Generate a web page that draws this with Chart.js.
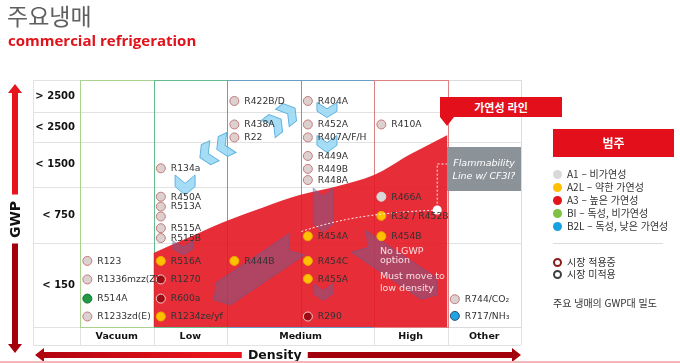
<!DOCTYPE html>
<html lang="ko">
<head>
<meta charset="utf-8">
<title>주요냉매 - commercial refrigeration</title>
<script src="https://cdn.jsdelivr.net/npm/chart.js@4.4.1/dist/chart.umd.min.js"></script>
<style>
  html, body { margin: 0; padding: 0; background: #fff; }
  #wrap { position: relative; width: 680px; height: 363px; overflow: hidden; font-family: 'Noto Sans CJK KR', sans-serif; }
  #chart { position: absolute; left: 0; top: 0; }
  .abs { position: absolute; }
  .title { left: 7px; top: 1px; font-size: 23px; line-height: 28px; color: #5f5f5f; }
  .subtitle { left: 8px; top: 31px; font: bold 15px 'Open Sans', sans-serif; color: #e0121b; line-height: 18px; }
  .flag { left: 440px; top: 97px; width: 122px; height: 20px; background: #e3101b; color: #fff;
          font: bold 11px 'Noto Sans CJK KR', sans-serif; line-height: 20px; text-align: center; }
  .flag-tip { left: 440px; top: 117px; width: 0; height: 0; border-left: 7px solid transparent;
              border-right: 7px solid transparent; border-top: 9px solid #e3101b; }
  .cf3i { left: 447px; top: 147px; width: 74px; height: 44px; background: #8c9398; color: #fff;
          font: italic 9.5px 'DejaVu Sans', sans-serif; line-height: 13px; text-align: center;
          padding-top: 9px; box-sizing: border-box; }
  .legend-head { left: 553px; top: 129px; width: 121px; height: 28px; background: #e3101b; color: #fff;
                 font: bold 12px 'Noto Sans CJK KR', sans-serif; line-height: 28px; text-align: center; }
  .leg-row { left: 553px; height: 13px; font-size: 10px; line-height: 13px; color: #333; white-space: nowrap; }
  .leg-dot { display: inline-block; width: 9px; height: 9px; border-radius: 50%; vertical-align: -1px; margin-right: 5px; box-sizing: border-box; }
  .leg-sep { left: 553px; top: 243px; width: 110px; height: 1px; background: #dcdcdc; }
</style>
</head>
<body>
<div id="wrap">
  <canvas id="chart" width="680" height="363"></canvas>
  <div class="abs title">주요냉매</div>
  <div class="abs subtitle">commercial refrigeration</div>
  <div class="abs flag">가연성 라인</div>
  <div class="abs flag-tip"></div>
  <div class="abs cf3i">Flammability<br>Line w/ CF3I?</div>
  <div class="abs legend-head">범주</div>
  <div id="legend"></div>
</div>
<script>
// columns (density) and rows (GWP band) of the table
const densityLabels = ['Vacuum', 'Low', 'Medium', 'High', 'Other'];
const densityEdges = [0, 1, 2, 4, 5, 6];
const gwpLabels = ['< 150', '< 750', '< 1500', '< 2500', '> 2500'];
const gwpEdges = [0, 6.8, 11.35, 15, 17.4, 20];

// refrigerants: column slot (Medium has two slots: 2 and 3) and height inside the GWP rows
const refNames = [
    'R123', 'R1336mzz(Z)', 'R514A', 'R1233zd(E)',
    'R134a', 'R450A', 'R513A', '', 'R515A', 'R515B', 'R516A', 'R1270', 'R600a', 'R1234ze/yf',
    'R422B/D', 'R438A', 'R22', 'R444B',
    'R404A', 'R452A', 'R407A/F/H', 'R449A', 'R449B', 'R448A', 'R454A', 'R454C', 'R455A', 'R290',
    'R410A', 'R466A', 'R32 / R452B', 'R454B',
    'R744/CO₂', 'R717/NH₃'
];
const refColumn = [
    0, 0, 0, 0,
    1, 1, 1, 1, 1, 1, 1, 1, 1, 1,
    2, 2, 2, 2,
    3, 3, 3, 3, 3, 3, 3, 3, 3, 3,
    4, 4, 4, 4,
    5, 5
];
const refGwp = [
    5.35, 3.85, 2.3, 0.85,
    12.85, 10.55, 9.75, 8.95, 8.0, 7.2, 5.35, 3.85, 2.3, 0.85,
    18.3, 16.4, 15.35, 5.35,
    18.3, 16.4, 15.35, 13.85, 12.8, 11.9, 7.35, 5.35, 3.9, 0.85,
    16.4, 10.55, 9.0, 7.35,
    2.25, 0.9
];
const refClass = [
    'A1', 'A1', 'B1', 'A1',
    'A1', 'A1', 'A1', 'A1', 'A1', 'A1', 'A2L', 'A3', 'A3', 'A2L',
    'A1', 'A1', 'A1', 'A2L',
    'A1', 'A1', 'A1', 'A1', 'A1', 'A1', 'A2L', 'A2L', 'A2L', 'A3',
    'A1', 'A1', 'A2L', 'A2L',
    'A1', 'B2L'
];
const notInMarket = ['R466A'];

// flammability line (top of the red area)
const flammabilityX = [1, 1.5, 2, 2.5, 3, 3.5, 4, 4.5, 5];
const flammabilityY = [6.0, 7.3, 8.6, 9.7, 10.7, 11.4, 12.3, 14.0, 15.55];

// legend
const classKeys = ['A1', 'A2L', 'A3', 'B1', 'B2L'];
const classTitles = ['A1 – 비가연성', 'A2L – 약한 가연성', 'A3 – 높은 가연성', 'BI – 독성, 비가연성', 'B2L – 독성, 낮은 가연성'];
const marketTitles = ['시장 적용중', '시장 미적용'];
const legendNote = '주요 냉매의 GWP대 밀도';
const highNote = ['No LGWP', 'option', 'Must move to', 'low density'];
const highNoteY = [6.15, 5.35, 4.05, 3.15];

const pointStyle = {
    A1:  { fill: '#ddd0d0', ring: '#c47a7a' },
    A2L: { fill: '#ffc000', ring: '#eaa900' },
    A3:  { fill: '#9e0b12', ring: '#f2d0d0' },
    B1:  { fill: '#1f9a45', ring: '#166f33' },
    B2L: { fill: '#1fa3e3', ring: '#25506e' }
};
const legendColors = { A1: '#d9d9d9', A2L: '#ffc000', A3: '#e3141c', B1: '#7dc242', B2L: '#18a1e0' };
const columnColors = ['#a9d38f', '#63bc8e', '#6a9ec8', '#dc8181', '#dcdcdc'];

// decorations: [x, y, length, width, angle]
const blueChevrons = [
    [1.43, 11.5, 20, 20, 90],
    [3.36, 17.57, 15, 20, 90],
    [3.36, 14.82, 17, 20, 90],
    [1.73, 14.0, 16, 22, 155],
    [1.96, 14.66, 16, 22, 155],
    [2.65, 16.44, 16, 22, -38],
    [2.84, 17.33, 16, 22, -38]
];
const slateArrows = [
    [3.31, 9.47, 44, 20, 90],
    [1.40, 6.4, 14, 20, 90],
    [2.39, 4.45, 100, 26, 146],
    [3.31, 2.83, 17, 20, 90],
    [4.33, 4.78, 95, 26, 34]
];
const cf3iPath = [[5, 13.2], [4.86, 13.2], [4.86, 9.47]];
const cf3iCurve = [[4.86, 9.47], [3.9, 9.23], [3.44, 8.58], [2.99, 7.69]];

function drawChevron(ctx, cx, cy, len, wid, angle) {
    const notch = Math.min(len, wid) * 0.42;
    const pts = [
        [-len / 2, -wid / 2], [len / 2 - notch, -wid / 2], [len / 2, 0],
        [len / 2 - notch, wid / 2], [-len / 2, wid / 2], [-len / 2 + notch, 0]
    ];
    ctx.save();
    ctx.translate(cx, cy);
    ctx.rotate(angle * Math.PI / 180);
    ctx.beginPath();
    pts.forEach((p, i) => i ? ctx.lineTo(p[0], p[1]) : ctx.moveTo(p[0], p[1]));
    ctx.closePath();
    ctx.fill();
    ctx.stroke();
    ctx.restore();
}

function drawArrowPart(ctx, x1, y1, x2, y2, shaft, head, headLen, colFrom, colTo) {
    // bar from (x1,y1) to (x2,y2) with an arrow head at (x2,y2)
    const g = ctx.createLinearGradient(x1, y1, x2, y2);
    g.addColorStop(0, colFrom);
    g.addColorStop(1, colTo);
    const len = Math.hypot(x2 - x1, y2 - y1);
    ctx.save();
    ctx.translate(x1, y1);
    ctx.rotate(Math.atan2(y2 - y1, x2 - x1));
    ctx.fillStyle = g;
    ctx.beginPath();
    ctx.moveTo(0, -shaft / 2);
    ctx.lineTo(len - headLen, -shaft / 2);
    ctx.lineTo(len - headLen, -head / 2);
    ctx.lineTo(len, 0);
    ctx.lineTo(len - headLen, head / 2);
    ctx.lineTo(len - headLen, shaft / 2);
    ctx.lineTo(0, shaft / 2);
    ctx.closePath();
    ctx.fill();
    ctx.restore();
}

const tableGrid = {
    id: 'tableGrid',
    beforeDatasetsDraw(chart) {
        const { ctx, chartArea: a, scales: { x, y } } = chart;
        const left = y.left, bottom = x.bottom;
        ctx.save();
        ctx.lineWidth = 1;
        ctx.strokeStyle = '#e2e2e2';
        ctx.beginPath();
        gwpEdges.forEach(e => {
            const py = Math.round(y.getPixelForValue(e)) + 0.5;
            ctx.moveTo(left, py);
            ctx.lineTo(a.right, py);
        });
        ctx.moveTo(left, Math.round(bottom) + 0.5);
        ctx.lineTo(a.right, Math.round(bottom) + 0.5);
        ctx.moveTo(left + 0.5, a.top);
        ctx.lineTo(left + 0.5, bottom);
        densityEdges.forEach(e => {
            const px = Math.round(x.getPixelForValue(e)) + 0.5;
            ctx.moveTo(px, a.top);
            ctx.lineTo(px, bottom);
        });
        ctx.stroke();

        // coloured column frames, Other first so High keeps its edge
        const order = [4, 0, 1, 2, 3];
        order.forEach(i => {
            const x0 = Math.round(x.getPixelForValue(densityEdges[i])) + 0.5;
            const x1 = Math.round(x.getPixelForValue(densityEdges[i + 1])) + 0.5;
            ctx.strokeStyle = columnColors[i];
            ctx.strokeRect(x0, Math.round(a.top) + 0.5, x1 - x0, Math.round(a.bottom) - Math.round(a.top));
        });
        const mid = Math.round(x.getPixelForValue(3)) + 0.5;
        ctx.strokeStyle = columnColors[2];
        ctx.beginPath();
        ctx.moveTo(mid, a.top);
        ctx.lineTo(mid, a.bottom);
        ctx.stroke();
        ctx.restore();
    },
    afterDatasetDraw(chart, args) {
        if (args.index !== 1) return;
        const { ctx, scales: { x, y } } = chart;
        ctx.save();
        ctx.lineWidth = 1;
        ctx.fillStyle = 'rgba(95, 105, 165, 0.4)';
        ctx.strokeStyle = 'rgba(85, 95, 160, 0.45)';
        slateArrows.forEach(d => drawChevron(ctx, x.getPixelForValue(d[0]), y.getPixelForValue(d[1]), d[2], d[3], d[4]));
        ctx.fillStyle = 'rgba(150, 215, 245, 0.85)';
        ctx.strokeStyle = '#62b3df';
        blueChevrons.forEach(d => drawChevron(ctx, x.getPixelForValue(d[0]), y.getPixelForValue(d[1]), d[2], d[3], d[4]));
        ctx.restore();
    },
    afterDatasetsDraw(chart) {
        const { ctx, scales: { x, y } } = chart;
        ctx.save();
        // CF3I dotted line
        ctx.strokeStyle = 'rgba(255,255,255,0.9)';
        ctx.lineWidth = 1;
        ctx.setLineDash([2, 2]);
        ctx.beginPath();
        cf3iPath.forEach((p, i) => {
            const px = x.getPixelForValue(p[0]), py = y.getPixelForValue(p[1]);
            i ? ctx.lineTo(px, py) : ctx.moveTo(px, py);
        });
        const c = cf3iCurve.map(p => [x.getPixelForValue(p[0]), y.getPixelForValue(p[1])]);
        ctx.moveTo(c[0][0], c[0][1]);
        ctx.bezierCurveTo(c[1][0], c[1][1], c[2][0], c[2][1], c[3][0], c[3][1]);
        ctx.stroke();
        ctx.setLineDash([]);
        ctx.fillStyle = '#fff';
        ctx.beginPath();
        ctx.arc(c[0][0], c[0][1], 4.5, 0, Math.PI * 2);
        ctx.fill();

        // refrigerant names
        const meta = chart.getDatasetMeta(0);
        ctx.font = '9.2px "DejaVu Sans", sans-serif';
        ctx.fillStyle = '#333';
        ctx.textBaseline = 'middle';
        meta.data.forEach((pt, i) => ctx.fillText(refNames[i], pt.x + 10, pt.y + 0.5));

        // note in the High column
        ctx.font = '9.5px "DejaVu Sans", sans-serif';
        ctx.fillStyle = 'rgba(255, 236, 236, 0.92)';
        highNote.forEach((t, i) => ctx.fillText(t, x.getPixelForValue(4.08), y.getPixelForValue(highNoteY[i])));
        ctx.restore();
    },
    afterDraw(chart) {
        const { ctx, chartArea: a, scales: { x, y } } = chart;
        const bright = '#e8141d', dark = '#a3000c';
        ctx.save();
        // GWP axis arrow
        const gx = 15, gMid = (a.top + x.bottom) / 2 + 7;
        drawArrowPart(ctx, gx, gMid - 25, gx, a.top + 4, 6, 14, 9, dark, bright);
        drawArrowPart(ctx, gx, gMid + 24, gx, x.bottom + 8, 6, 14, 9, dark, bright);
        ctx.translate(gx, gMid);
        ctx.rotate(-Math.PI / 2);
        ctx.font = 'bold 14px "DejaVu Sans", sans-serif';
        ctx.fillStyle = '#111';
        ctx.textAlign = 'center';
        ctx.textBaseline = 'middle';
        ctx.fillText('GWP', 0, 1);
        ctx.restore();

        // Density axis arrow
        ctx.save();
        const dy = 355, dMid = x.getPixelForValue(2.65);
        drawArrowPart(ctx, dMid - 33, dy, y.left + 2, dy, 6, 14, 9, dark, bright);
        drawArrowPart(ctx, dMid + 33, dy, a.right, dy, 6, 14, 9, dark, bright);
        ctx.font = 'bold 12.5px "DejaVu Sans", sans-serif';
        ctx.fillStyle = '#111';
        ctx.textAlign = 'center';
        ctx.textBaseline = 'middle';
        ctx.fillText('Density', dMid, dy + 1);

        // pink rule at the bottom
        ctx.strokeStyle = '#f3b7b7';
        ctx.lineWidth = 2;
        ctx.beginPath();
        ctx.moveTo(0, 362);
        ctx.lineTo(680, 362);
        ctx.stroke();
        ctx.restore();
    }
};

const centersOf = edges => edges.slice(0, -1).map((e, i) => (e + edges[i + 1]) / 2);
const styleOf = i => notInMarket.includes(refNames[i])
    ? { fill: '#d8d8d8', ring: '#d8d8d8' } : pointStyle[refClass[i]];

Chart.defaults.font.family = '"DejaVu Sans", sans-serif';

new Chart(document.getElementById('chart'), {
    type: 'scatter',
    data: {
        datasets: [{
            label: 'refrigerants',
            data: refNames.map((n, i) => ({ x: refColumn[i] + 0.1, y: refGwp[i] })),
            pointRadius: 4.5,
            pointBorderWidth: 1,
            pointBackgroundColor: refNames.map((n, i) => styleOf(i).fill),
            pointBorderColor: refNames.map((n, i) => styleOf(i).ring)
        }, {
            type: 'line',
            label: '가연성 라인',
            data: flammabilityX.map((v, i) => ({ x: v, y: flammabilityY[i] })),
            borderWidth: 0,
            pointRadius: 0,
            cubicInterpolationMode: 'monotone',
            fill: 'start',
            backgroundColor: 'rgba(228, 22, 34, 0.9)'
        }]
    },
    options: {
        responsive: false,
        animation: false,
        devicePixelRatio: 1,
        layout: { padding: { left: 33, top: 80, right: 159, bottom: 18 } },
        plugins: { legend: { display: false }, tooltip: { enabled: false } },
        scales: {
            x: {
                type: 'linear', min: 0, max: 6,
                grid: { display: false, drawTicks: false },
                border: { display: false },
                afterBuildTicks: s => { s.ticks = centersOf(densityEdges).map(v => ({ value: v })); },
                afterFit: s => { s.height = 18; },
                ticks: {
                    autoSkip: false, maxRotation: 0, padding: 4, color: '#111',
                    font: { size: 9.5, weight: 'bold' },
                    callback: (v, i) => densityLabels[i]
                }
            },
            y: {
                type: 'linear', min: 0, max: 20,
                grid: { display: false, drawTicks: false },
                border: { display: false },
                afterBuildTicks: s => { s.ticks = centersOf(gwpEdges).map(v => ({ value: v })); },
                afterFit: s => { s.width = 47; },
                ticks: {
                    autoSkip: false, padding: 5, color: '#111',
                    font: { size: 10, weight: 'bold' },
                    callback: (v, i) => gwpLabels[i]
                }
            }
        }
    },
    plugins: [tableGrid]
});

// legend panel
const legend = document.getElementById('legend');
const addRow = (top, dotCss, text) => {
    const row = document.createElement('div');
    row.className = 'abs leg-row';
    row.style.top = top + 'px';
    const dot = document.createElement('span');
    dot.className = 'leg-dot';
    dot.style.cssText = dotCss;
    row.appendChild(dot);
    row.appendChild(document.createTextNode(text));
    legend.appendChild(row);
};
classKeys.forEach((k, i) => addRow(167 + i * 13, 'background:' + legendColors[k], classTitles[i]));
const sep = document.createElement('div');
sep.className = 'abs leg-sep';
legend.appendChild(sep);
addRow(255, 'border:2px solid #8b1d1d;background:#fff', marketTitles[0]);
addRow(267, 'border:2px solid #3f3f3f;background:#fff', marketTitles[1]);
const note = document.createElement('div');
note.className = 'abs leg-row';
note.style.top = '296px';
note.textContent = legendNote;
legend.appendChild(note);
</script>
</body>
</html>
